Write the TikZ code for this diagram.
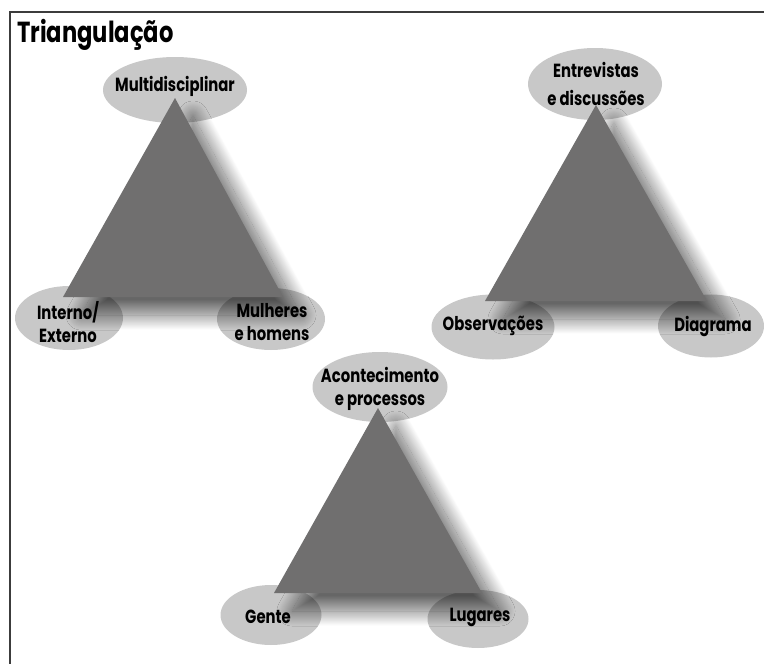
\documentclass[tikz,border=0pt]{standalone}
\usepackage{fontspec}
\usetikzlibrary{shapes.geometric,shadows.blur}
\newfontfamily\gfont{Poppins}[FakeStretch=0.78]
\definecolor{ellgray}{RGB}{200,200,200}
\definecolor{trigray}{RGB}{112,111,111}
\definecolor{framegray}{RGB}{60,60,60}
\begin{document}
\begin{tikzpicture}[x=1pt,y=-1pt,
  ell/.style={ellipse, fill=ellgray, inner sep=0pt},
  lbl/.style={font=\gfont\bfseries\fontsize{19}{23}\selectfont, align=center, text=black, inner sep=0pt},
  tri/.style={fill=trigray, blur shadow={shadow xshift=18pt, shadow yshift=-18pt, shadow blur radius=15pt, shadow blur steps=40, shadow opacity=60}},
  framel/.style={draw=framegray, line width=2pt}]
\useasboundingbox (0,0) rectangle (764,664);
\draw[framel] (10,664) -- (10,12) -- (764,12);
\node[font=\gfont\bfseries\fontsize{29}{32}\selectfont, anchor=base west, inner sep=0pt] (title) at (17,42) {Triangulação};

% ellipses
\node[ell, minimum width=144pt, minimum height=66pt] (e1) at (175,90) {};
\node[ell, minimum width=108pt, minimum height=64pt] (e2) at (69,318) {};
\node[ell, minimum width=108pt, minimum height=62pt] (e3) at (271,319) {};
\node[ell, minimum width=134pt, minimum height=72pt] (e4) at (595,84) {};
\node[ell, minimum width=123pt, minimum height=65pt] (e5) at (493,327) {};
\node[ell, minimum width=106pt, minimum height=63pt] (e6) at (711,326) {};
\node[ell, minimum width=135pt, minimum height=70pt] (e7) at (380,387) {};
\node[ell, minimum width=101pt, minimum height=60pt] (e8) at (271,615) {};
\node[ell, minimum width=101pt, minimum height=58pt] (e9) at (478,619) {};

% triangles
\coordinate (a1) at (175,98);  \coordinate (b1) at (63,297);  \coordinate (c1) at (283,297);
\coordinate (a2) at (596,105); \coordinate (b2) at (485,301); \coordinate (c2) at (707,301);
\coordinate (a3) at (378,408); \coordinate (b3) at (274,593); \coordinate (c3) at (482,593);
\fill[tri] (a1) -- (b1) -- (c1) -- cycle;
\fill[tri] (a2) -- (b2) -- (c2) -- cycle;
\fill[tri] (a3) -- (b3) -- (c3) -- cycle;

% labels
\node[lbl] (t1) at (175,86) {Multidisciplinar};
\node[lbl] (t2) at (68,322) {Interno/\\Externo};
\node[lbl] (t3) at (272,322) {Mulheres\\e homens};
\node[lbl, font=\gfont\bfseries\fontsize{19}{28}\selectfont] (t4) at (596,84) {Entrevistas\\e discussões};
\node[lbl] (t5) at (493,326) {Observações};
\node[lbl] (t6) at (713,326) {Diagrama};
\node[lbl] (t7) at (380,389) {Acontecimento\\e processos};
\node[lbl] (t8) at (268,617) {Gente};
\node[lbl] (t9) at (480,617) {Lugares};
\end{tikzpicture}
\end{document}
